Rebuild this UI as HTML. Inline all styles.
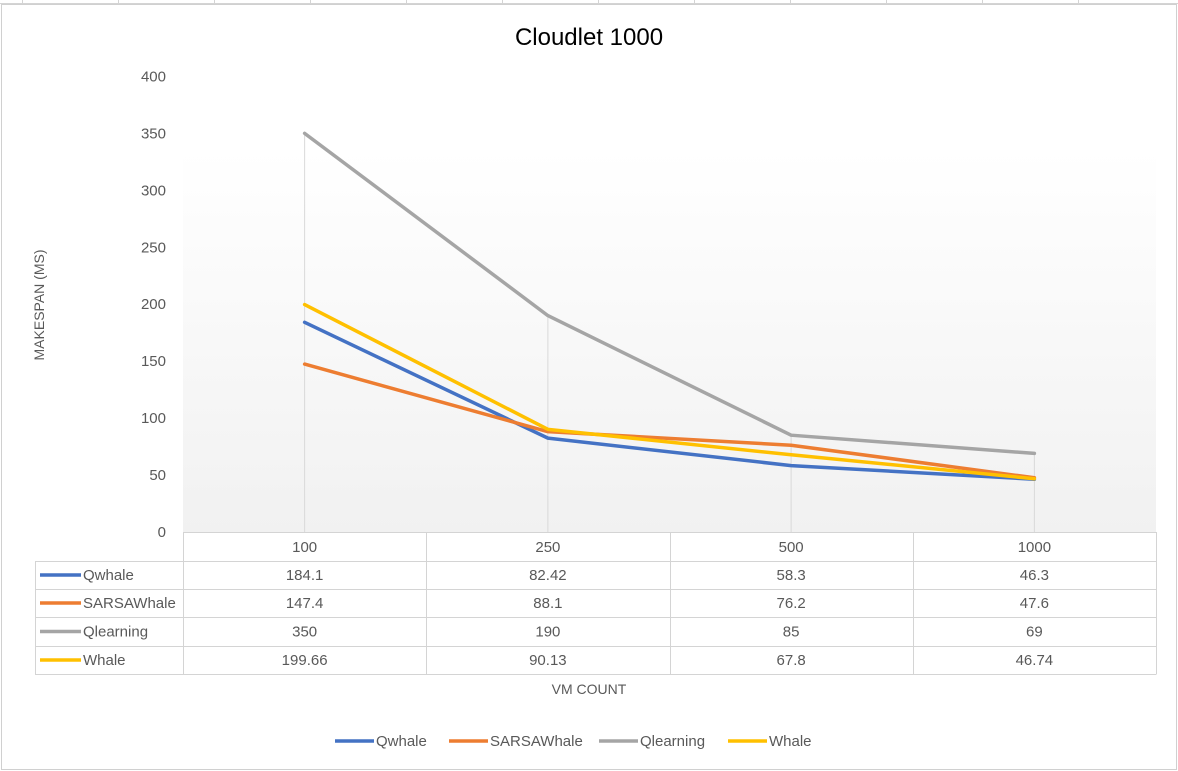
<!DOCTYPE html>
<html><head><meta charset="utf-8"><style>
html,body{margin:0;padding:0;background:#fff;}
svg{display:block;font-family:"Liberation Sans",sans-serif;}
</style></head><body>
<svg id="chart" width="1178" height="771" xmlns="http://www.w3.org/2000/svg">
<defs><linearGradient id="bg" x1="0" y1="0" x2="0" y2="1"><stop offset="0" stop-color="#ffffff"/><stop offset="1" stop-color="#f1f1f1"/></linearGradient></defs>
<rect x="0" y="0" width="1178" height="771" fill="#fff"/>
<g stroke="#d4d4d4" stroke-width="1">
<line x1="0" y1="3.5" x2="1178" y2="3.5"/>
<line x1="22.5" y1="0" x2="22.5" y2="3"/><line x1="118.5" y1="0" x2="118.5" y2="3"/><line x1="214.5" y1="0" x2="214.5" y2="3"/><line x1="310.5" y1="0" x2="310.5" y2="3"/><line x1="406.5" y1="0" x2="406.5" y2="3"/><line x1="502.5" y1="0" x2="502.5" y2="3"/><line x1="598.5" y1="0" x2="598.5" y2="3"/><line x1="694.5" y1="0" x2="694.5" y2="3"/><line x1="790.5" y1="0" x2="790.5" y2="3"/><line x1="886.5" y1="0" x2="886.5" y2="3"/><line x1="982.5" y1="0" x2="982.5" y2="3"/><line x1="1078.5" y1="0" x2="1078.5" y2="3"/>
</g>
<rect x="1.5" y="4.5" width="1175" height="765" fill="none" stroke="#d0d0d0"/>
<rect x="183" y="150" width="973" height="382" fill="url(#bg)"/>
<text x="589" y="45" text-anchor="middle" font-size="24" fill="#000">Cloudlet 1000</text>
<text transform="translate(44,305) rotate(-90)" text-anchor="middle" font-size="14" fill="#595959">MAKESPAN (MS)</text>
<text x="589" y="694" text-anchor="middle" font-size="14" fill="#595959">VM COUNT</text>
<g id="yticks"></g><g id="drops"></g><g id="lines"></g><g id="table"></g><g id="legend"></g>
</svg>
<script>
const categories = ["100","250","500","1000"];
const seriesNames = ["Qwhale","SARSAWhale","Qlearning","Whale"];
const qwhale = [184.1, 82.42, 58.3, 46.3];
const sarsaWhale = [147.4, 88.1, 76.2, 47.6];
const qlearning = [350, 190, 85, 69];
const whale = [199.66, 90.13, 67.8, 46.74];
const yTicks = [0,50,100,150,200,250,300,350,400];
const seriesValues = [qwhale, sarsaWhale, qlearning, whale];
const colors = ["#4472c4","#ed7d31","#a5a5a5","#ffc000"];

const NS="http://www.w3.org/2000/svg";
const X0=183, X1=1156, Y0=532, YTOP=76.4, YMAX=400;
const cw=(X1-X0)/categories.length;
const xS=i=>X0+cw*(i+0.5);
const yS=v=>Y0-(v/YMAX)*(Y0-YTOP);
function mk(tag,attrs,parent){const e=document.createElementNS(NS,tag);for(const k in attrs)e.setAttribute(k,attrs[k]);parent.appendChild(e);return e;}

const yt=document.getElementById('yticks');
yTicks.forEach(t=>{const e=mk('text',{x:166,y:yS(t)+5,'text-anchor':'end','font-size':15,fill:'#595959'},yt);


e.textContent=t;});

const dr=document.getElementById('drops');
categories.forEach((c,i)=>{const mx=Math.max(...seriesValues.map(s=>s[i]));
const l=mk('line',{x1:xS(i),x2:xS(i),y1:yS(mx),y2:Y0,stroke:'#d9d9d9','stroke-width':1},dr);

});

const ln=document.getElementById('lines');
[0,1,2,3].forEach(s=>{const pts=seriesValues[s].map((v,i)=>xS(i)+','+yS(v)).join(' ');
const p=mk('polyline',{points:pts,fill:'none',stroke:colors[s],'stroke-width':3.5,'stroke-linejoin':'round','stroke-linecap':'round'},ln);

});

const tb=document.getElementById('table');
const rowY=[532,561,589,617,646,674];
const grid='#d4d4d4';
// header row lines
mk('line',{x1:X0,x2:X1,y1:532.5,y2:532.5,stroke:grid},tb);
for(let r=1;r<rowY.length;r++){mk('line',{x1:35,x2:X1,y1:rowY[r]+0.5,y2:rowY[r]+0.5,stroke:grid},tb);}
for(let i=0;i<=categories.length;i++){const x=Math.round(X0+cw*i)+0.5;mk('line',{x1:x,x2:x,y1:532,y2:674.5,stroke:grid},tb);}
mk('line',{x1:35.5,x2:35.5,y1:561,y2:674.5,stroke:grid},tb);
categories.forEach((c,i)=>{const e=mk('text',{x:xS(i),y:552,'text-anchor':'middle','font-size':15,fill:'#595959'},tb);


e.textContent=c;});
seriesValues.forEach((s,r)=>{
const yc=(rowY[r+1]+rowY[r+2])/2;
const k=mk('line',{x1:40,x2:81,y1:yc,y2:yc,stroke:colors[r],'stroke-width':3.5},tb);


const n=mk('text',{x:83,y:yc+5,'font-size':15,fill:'#595959'},tb);


n.textContent=seriesNames[r];
s.forEach((v,i)=>{const e=mk('text',{x:xS(i),y:yc+5,'text-anchor':'middle','font-size':15,fill:'#595959'},tb);


e.textContent=v;});});

const lg=document.getElementById('legend');
const lx=[335,449,599,728];
seriesNames.forEach((n,i)=>{
const g=mk('g',{},lg);


mk('line',{x1:lx[i],x2:lx[i]+39,y1:741,y2:741,stroke:colors[i],'stroke-width':3.5},g);
const t=mk('text',{x:lx[i]+41,y:746,'font-size':15,fill:'#595959'},g);
t.textContent=n;});
</script>
</body></html>
